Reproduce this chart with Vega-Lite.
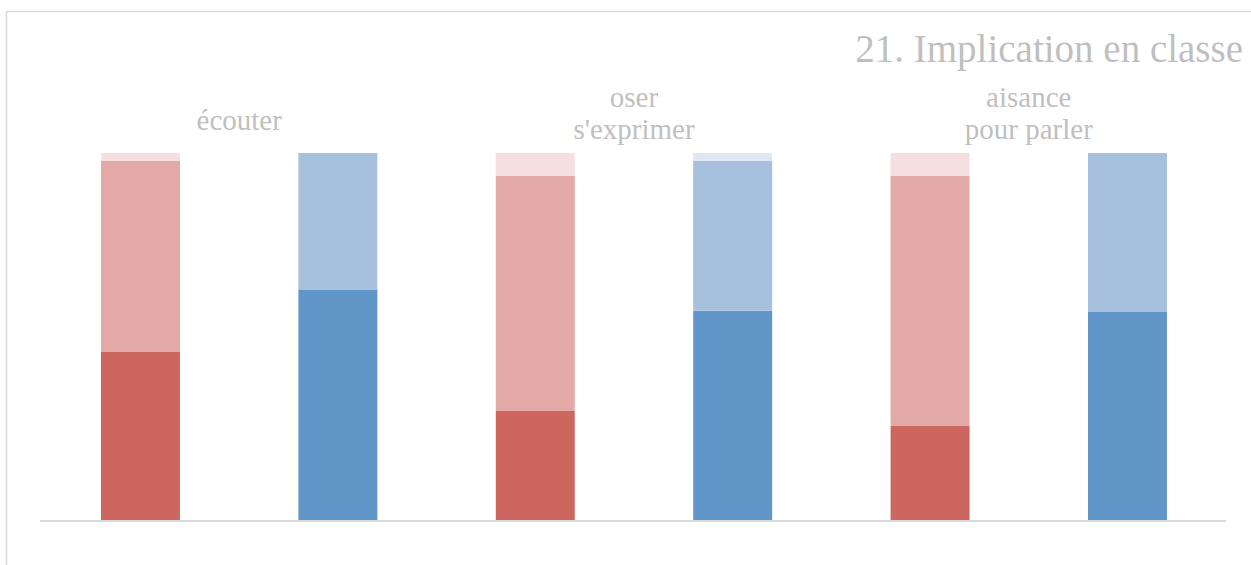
{
  "$schema": "https://vega.github.io/schema/vega-lite/v6.json",
  "width": 1245,
  "height": 554,
  "autosize": {"type": "none"},
  "padding": {"left": 6, "top": 11, "right": 0, "bottom": 0},
  "background": "white",
  "config": {
    "view": {"stroke": null},
    "font": "Liberation Serif"
  },
  "title": {
    "text": "21. Implication en classe",
    "anchor": "end",
    "frame": "group",
    "orient": "top",
    "offset": -59,
    "dx": -8,
    "font": "Liberation Serif",
    "fontSize": 39,
    "fontWeight": "normal",
    "color": "#bfbfbf"
  },
  "datasets": {
    "barres": [
      {"barre": "écouter · 1", "segment": "rouge 1", "niveau": 1, "valeur": 45.8},
      {"barre": "écouter · 1", "segment": "rouge 2", "niveau": 2, "valeur": 52.0},
      {"barre": "écouter · 1", "segment": "rouge 3", "niveau": 3, "valeur": 2.2},
      {"barre": "écouter · 2", "segment": "bleu 1", "niveau": 1, "valeur": 62.7},
      {"barre": "écouter · 2", "segment": "bleu 2", "niveau": 2, "valeur": 37.3},
      {"barre": "oser · 1", "segment": "rouge 1", "niveau": 1, "valeur": 29.7},
      {"barre": "oser · 1", "segment": "rouge 2", "niveau": 2, "valeur": 64.0},
      {"barre": "oser · 1", "segment": "rouge 3", "niveau": 3, "valeur": 6.3},
      {"barre": "oser · 2", "segment": "bleu 1", "niveau": 1, "valeur": 57.0},
      {"barre": "oser · 2", "segment": "bleu 2", "niveau": 2, "valeur": 40.8},
      {"barre": "oser · 2", "segment": "bleu 3", "niveau": 3, "valeur": 2.2},
      {"barre": "aisance · 1", "segment": "rouge 1", "niveau": 1, "valeur": 25.6},
      {"barre": "aisance · 1", "segment": "rouge 2", "niveau": 2, "valeur": 68.1},
      {"barre": "aisance · 1", "segment": "rouge 3", "niveau": 3, "valeur": 6.3},
      {"barre": "aisance · 2", "segment": "bleu 1", "niveau": 1, "valeur": 56.7},
      {"barre": "aisance · 2", "segment": "bleu 2", "niveau": 2, "valeur": 43.3}
    ],
    "groupes": [
      {"groupe": "écouter", "premiere": "écouter · 1", "texte": "écouter"},
      {"groupe": "oser", "premiere": "oser · 1", "texte": "oser\ns'exprimer"},
      {"groupe": "aisance", "premiere": "aisance · 1", "texte": "aisance\npour parler"}
    ]
  },
  "layer": [
    {
      "data": {"name": "barres"},
      "mark": {"type": "bar"},
      "encoding": {
        "x": {
          "field": "barre",
          "type": "nominal",
          "scale": {
            "domain": ["écouter · 1", "écouter · 2", "oser · 1", "oser · 2", "aisance · 1", "aisance · 2"],
            "paddingInner": 0.6,
            "paddingOuter": 0.4535,
            "align": 0.5306
          },
          "axis": {
            "orient": "top",
            "domain": true,
            "domainColor": "#d9d9d9",
            "domainWidth": 1.3,
            "ticks": false,
            "labels": false,
            "grid": false,
            "title": null
          }
        },
        "y": {
          "field": "valeur",
          "type": "quantitative",
          "stack": "zero",
          "scale": {"domain": [-12.262, 138.692], "nice": false, "zero": false},
          "axis": {
            "orient": "left",
            "domain": true,
            "domainColor": "#d9d9d9",
            "domainWidth": 1.5,
            "ticks": false,
            "labels": false,
            "grid": false,
            "title": null
          }
        },
        "color": {
          "field": "segment",
          "type": "nominal",
          "scale": {
            "domain": ["rouge 1", "rouge 2", "rouge 3", "bleu 1", "bleu 2", "bleu 3"],
            "range": ["#cd665e", "#e2a9a7", "#f5e0df", "#6096c8", "#a6c0de", "#dee7f2"]
          },
          "legend": null
        },
        "order": {"field": "niveau", "type": "quantitative", "sort": "ascending"}
      }
    },
    {
      "data": {"values": [{}]},
      "mark": {"type": "rule", "color": "#d9d9d9", "strokeWidth": 2, "xOffset": -100.5, "x2Offset": 98.5, "yOffset": 1},
      "encoding": {
        "x": {"datum": "écouter · 1", "type": "nominal", "bandPosition": 0.5},
        "x2": {"datum": "aisance · 2"},
        "y": {"datum": 0, "type": "quantitative"}
      }
    },
    {
      "data": {"name": "groupes"},
      "transform": [{"filter": "datum.groupe !== 'écouter'"}],
      "mark": {"type": "text", "font": "Liberation Serif", "fontSize": 29, "color": "#bfbfbf", "align": "center", "baseline": "alphabetic", "lineBreak": "\n", "lineHeight": 32, "dx": 98.7},
      "encoding": {
        "x": {"field": "premiere", "type": "nominal"},
        "y": {"datum": 112.67, "type": "quantitative"},
        "text": {"field": "texte"}
      }
    },
    {
      "data": {"name": "groupes"},
      "transform": [{"filter": "datum.groupe === 'écouter'"}],
      "mark": {"type": "text", "font": "Liberation Serif", "fontSize": 29, "color": "#bfbfbf", "align": "center", "baseline": "alphabetic", "dx": 98.7},
      "encoding": {
        "x": {"field": "premiere", "type": "nominal"},
        "y": {"datum": 106.27, "type": "quantitative"},
        "text": {"field": "texte"}
      }
    }
  ]
}
